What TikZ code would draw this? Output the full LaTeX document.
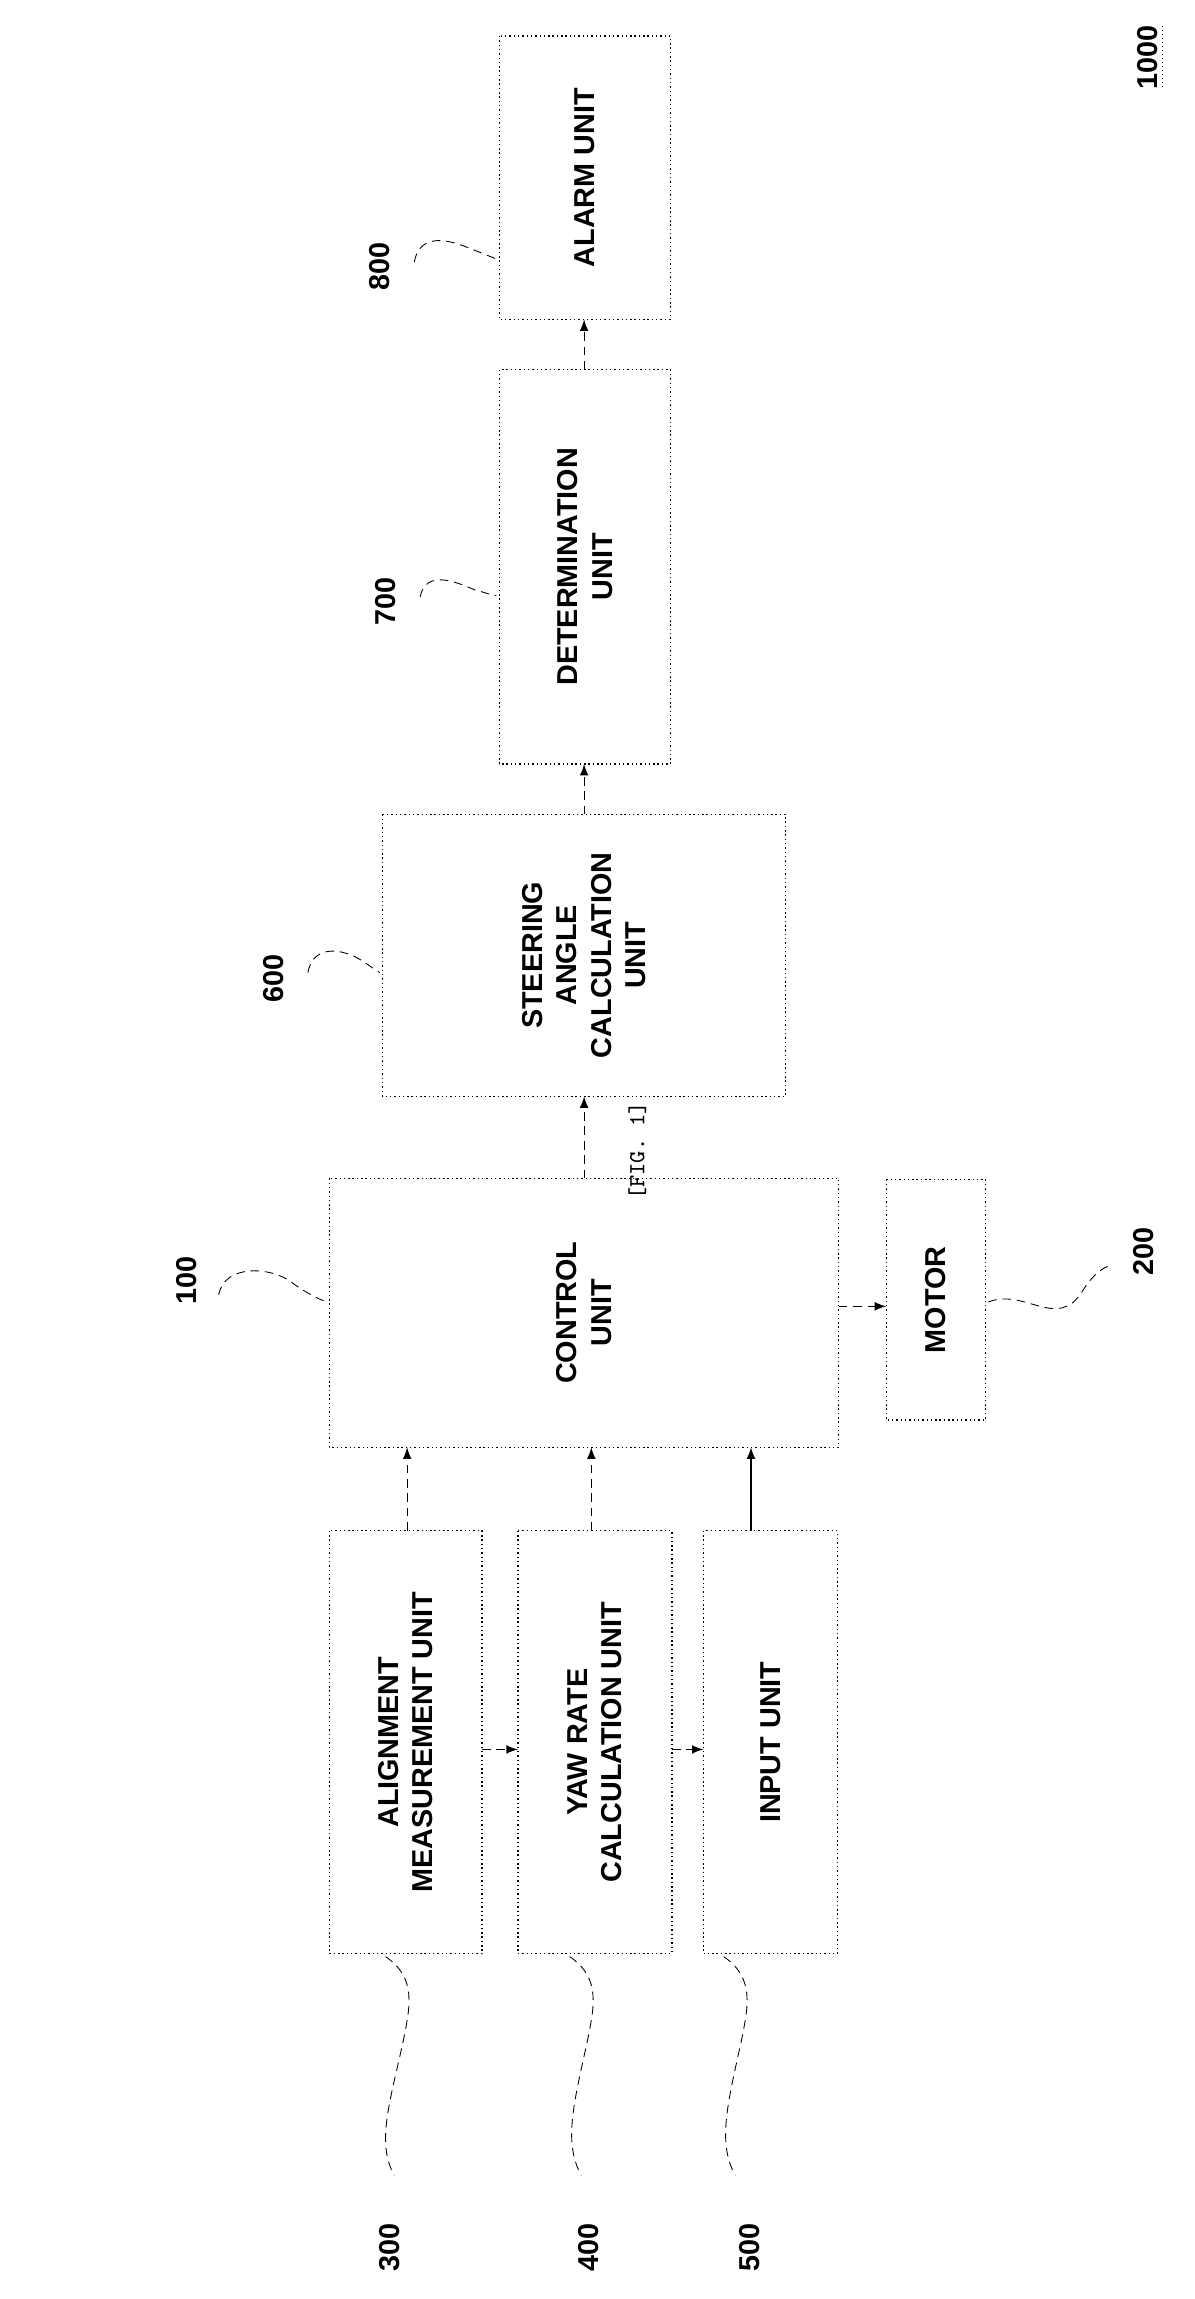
\documentclass[tikz,border=0pt]{standalone}
\usepackage{fontspec}
\setmainfont{Liberation Sans}
\begin{document}
\begin{tikzpicture}[x=0.5pt,y=-0.5pt,
 box/.style={draw,densely dotted,line width=0.5pt,inner sep=0pt},
 lbl/.style={rotate=90,align=center,font=\bfseries\fontsize{10}{12}\selectfont},
 num/.style={rotate=90,font=\bfseries\fontsize{10}{12}\selectfont},
 arr/.style={-latex,densely dashed,line width=0.4pt},
 lead/.style={densely dashed,line width=0.3pt}]
\useasboundingbox (0,0) rectangle (830,1598);
\newcommand{\bx}[5]{\draw[box] (#2,#3) rectangle (#4,#5); \coordinate (#1) at ({(#2+#4)/2},{(#3+#5)/2});}
\bx{alarm}{347}{25}{466}{222}
\bx{det}{347}{257}{466}{531}
\bx{steer}{266}{566}{546}{762}
\bx{ctrl}{229}{819}{583}{1006}
\bx{motor}{616}{820}{685}{987}
\bx{align}{229}{1064}{335}{1358}
\bx{yaw}{360}{1064}{467}{1358}
\bx{inp}{489}{1064}{582}{1358}
\node[lbl] (talarm) at (alarm) {ALARM UNIT};
\node[lbl] (tdet) at (det) {DETERMINATION\\UNIT};
\node[lbl] (tsteer) at (steer) {STEERING\\ANGLE\\CALCULATION\\UNIT};
\node[lbl] (tctrl) at (ctrl) {CONTROL\\UNIT};
\node[lbl] (tmotor) at (motor) {MOTOR};
\node[lbl] (talign) at (align) {ALIGNMENT\\MEASUREMENT UNIT};
\node[lbl] (tyaw) at (yaw) {YAW RATE\\CALCULATION UNIT};
\node[lbl] (tinp) at (inp) {INPUT UNIT};
% arrows
\coordinate (a1) at (283,1064); \coordinate (a1e) at (283,1006);
\coordinate (a2) at (411,1064); \coordinate (a2e) at (411,1006);
\coordinate (a3) at (522,1064); \coordinate (a3e) at (522,1006);
\draw[arr] (a1) -- (a1e);
\draw[arr] (a2) -- (a2e);
\draw[-latex,line width=0.4pt] (a3) -- (a3e);
\coordinate (c1) at (406,819); \coordinate (c1e) at (406,762);
\coordinate (c2) at (406,566); \coordinate (c2e) at (406,531);
\coordinate (c3) at (406,257); \coordinate (c3e) at (406,222);
\draw[arr] (c1) -- (c1e);
\draw[arr] (c2) -- (c2e);
\draw[arr] (c3) -- (c3e);
\coordinate (m1) at (583,908); \coordinate (m1e) at (616,908);
\draw[arr] (m1) -- (m1e);
\coordinate (h1) at (335,1216); \coordinate (h1e) at (360,1216);
\coordinate (h2) at (467,1216); \coordinate (h2e) at (489,1216);
\draw[arr] (h1) -- (h1e);
\draw[arr] (h2) -- (h2e);
% numbers
\node[num] (n800) at (264,185) {800};
\node[num] (n700) at (268,418) {700};
\node[num] (n600) at (190,680) {600};
\node[num] (n100) at (130,890) {100};
\node[num] (n200) at (795,870) {200};
\node[num] (n300) at (271,1562) {300};
\node[num] (n400) at (409,1562) {400};
\node[num] (n500) at (521,1562) {500};
\node[rotate=90,font=\ttfamily\fontsize{8}{10}\selectfont] (fig) at (443,800) {[FIG. 1]};
\node[num] (n1000) at (798,40) {1000};
\draw[densely dotted,line width=0.4pt] (808,18) -- (808,62);
% leader lines
\draw[lead] (288,182) .. controls (292,160) and (315,168) .. (325,172) .. controls (335,176) and (340,178) .. (345,180);
\draw[lead] (292,415) .. controls (296,395) and (318,405) .. (330,410) .. controls (338,412) and (342,414) .. (345,414);
\draw[lead] (214,676) .. controls (218,655) and (240,660) .. (252,668) .. controls (258,672) and (262,675) .. (264,676);
\draw[lead] (152,900) .. controls (156,878) and (190,880) .. (205,893) .. controls (215,900) and (222,903) .. (227,905);
\draw[lead] (687,905) .. controls (712,895) and (735,925) .. (752,898) .. controls (760,885) and (768,880) .. (772,880);
\draw[lead] (268,1360) .. controls (290,1375) and (285,1395) .. (280,1420) .. controls (270,1465) and (262,1490) .. (274,1512);
\draw[lead] (396,1360) .. controls (418,1375) and (413,1395) .. (408,1420) .. controls (398,1465) and (392,1490) .. (404,1512);
\draw[lead] (503,1360) .. controls (525,1375) and (520,1395) .. (515,1420) .. controls (505,1465) and (499,1490) .. (511,1512);
\end{tikzpicture}
\end{document}
